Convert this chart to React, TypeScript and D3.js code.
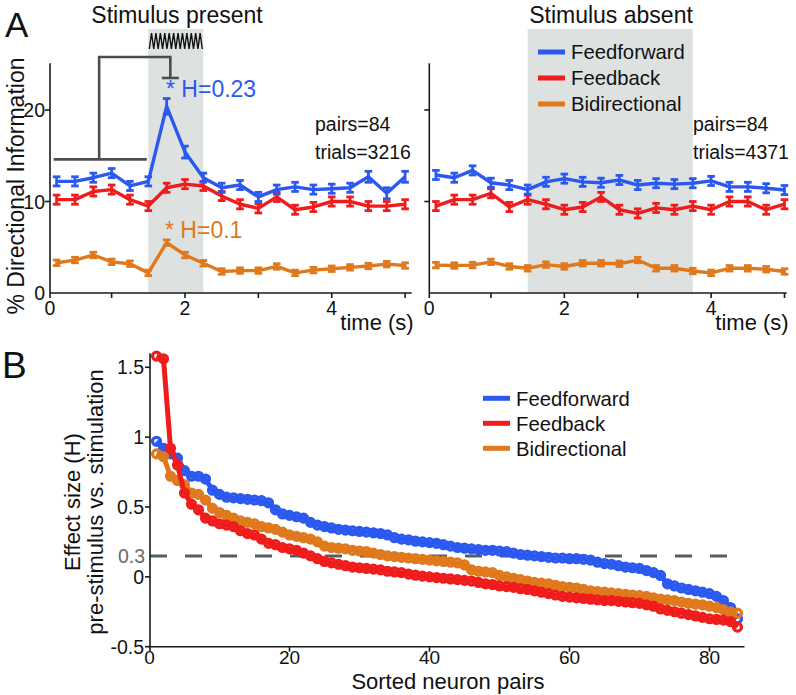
import React from 'react';
import * as d3 from 'd3';

// ---------- Panel A data ----------
const TIME = [0.25, 0.5, 0.75, 1.0, 1.25, 1.5, 1.75, 2.0, 2.25, 2.5, 2.75, 3.0, 3.25, 3.5, 3.75, 4.0, 4.25, 4.5, 4.75, 5.0];
const TIME_TICKS = [0, 1, 2, 3, 4, 5];
const TIME_TICK_LABELS = ['0', '', '2', '', '4', ''];
const DI_TICKS = [0, 10, 20];

const PRESENT_FF = [12.2, 12.2, 12.6, 13.1, 11.7, 12.2, 20.4, 15.4, 12.6, 11.5, 11.8, 10.5, 11.3, 11.6, 11.3, 11.4, 11.5, 12.7, 10.9, 12.7];
const PRESENT_FB = [10.2, 10.2, 11.1, 11.3, 10.2, 9.5, 11.5, 11.9, 11.7, 10.6, 9.7, 9.25, 10.5, 9.1, 9.4, 10.0, 10.0, 9.5, 9.5, 9.7];
const PRESENT_BI = [3.3, 3.6, 4.15, 3.4, 3.2, 2.2, 5.5, 4.15, 3.25, 2.35, 2.45, 2.45, 2.9, 2.2, 2.5, 2.65, 2.8, 2.95, 3.15, 3.0];
const PRESENT_FF_ERR = [0.5, 0.5, 0.5, 0.5, 0.5, 0.5, 0.85, 0.65, 0.5, 0.5, 0.5, 0.5, 0.5, 0.5, 0.5, 0.5, 0.5, 0.6, 0.6, 0.6];

const ABSENT_FF = [12.9, 12.6, 13.4, 12.05, 11.8, 11.3, 12.15, 12.5, 12.15, 12.05, 12.35, 11.8, 12.0, 11.9, 12.0, 12.25, 11.6, 11.6, 11.45, 11.25];
const ABSENT_FB = [9.5, 10.2, 10.2, 10.9, 9.4, 10.2, 9.7, 9.1, 9.4, 10.5, 9.1, 8.7, 9.3, 9.1, 9.5, 9.1, 10.0, 10.0, 9.1, 9.7];
const ABSENT_BI = [3.05, 3.0, 3.05, 3.4, 2.9, 2.7, 3.1, 2.9, 3.25, 3.25, 3.2, 3.6, 2.7, 2.7, 2.4, 2.2, 2.7, 2.7, 2.6, 2.35];

const ERR_FF = 0.5;
const ERR_FB = 0.5;
const ERR_BI = 0.3;

const STIM_PRESENT = [1.5, 2.25];
const STIM_ABSENT = [1.5, 3.75];

// bracket (time, value)
const BRACKET_BASE = [0.21, 1.48, 14.6];
const BRACKET_STEM_T = 0.83;
const BRACKET_TOP = 25.8;
const BRACKET_TARGET_T = 1.8;
const BRACKET_END = 23.5;

// ---------- Panel B data ----------
const PAIRS_TICKS = [0, 20, 40, 60, 80];
const H_TICKS = [1.5, 1, 0.5, 0, -0.5];
const H_TICK_LABELS = ['1.5', '1', '0.5', '0', '-0.5'];
const THRESHOLD_POS = 0.15;
const THRESHOLD_LABEL = '0.3';

const H_FF = [0.97, 0.92, 0.88, 0.85, 0.76, 0.72, 0.72, 0.70, 0.62, 0.59, 0.57, 0.565, 0.56, 0.555, 0.55, 0.545, 0.53, 0.48, 0.45, 0.44,
  0.43, 0.42, 0.39, 0.37, 0.36, 0.35, 0.34, 0.335, 0.33, 0.325, 0.32, 0.315, 0.31, 0.30, 0.28, 0.27, 0.265, 0.255, 0.25, 0.245,
  0.24, 0.23, 0.22, 0.21, 0.205, 0.20, 0.195, 0.19, 0.19, 0.185, 0.18, 0.17, 0.16, 0.155, 0.15, 0.145, 0.14, 0.135, 0.135, 0.13,
  0.13, 0.125, 0.12, 0.105, 0.095, 0.09, 0.08, 0.07, 0.065, 0.06, 0.045, 0.03, 0.01, -0.05, -0.065, -0.08, -0.09, -0.10, -0.11, -0.12,
  -0.14, -0.17, -0.22, -0.30];
const H_FB = [1.58, 1.56, 0.92, 0.80, 0.60, 0.52, 0.48, 0.42, 0.40, 0.38, 0.37, 0.36, 0.33, 0.31, 0.30, 0.27, 0.24, 0.23, 0.21, 0.20,
  0.19, 0.17, 0.15, 0.13, 0.11, 0.10, 0.09, 0.08, 0.07, 0.065, 0.06, 0.055, 0.05, 0.04, 0.035, 0.03, 0.02, 0.012, 0.005, 0.0,
  -0.005, -0.01, -0.015, -0.02, -0.025, -0.03, -0.04, -0.05, -0.055, -0.065, -0.07, -0.075, -0.085, -0.09, -0.10, -0.11, -0.12, -0.13, -0.14, -0.145,
  -0.15, -0.155, -0.16, -0.165, -0.17, -0.17, -0.175, -0.18, -0.185, -0.19, -0.20, -0.21, -0.23, -0.24, -0.25, -0.26, -0.27, -0.28, -0.29, -0.30,
  -0.305, -0.31, -0.32, -0.36];
const H_BI = [0.88, 0.86, 0.72, 0.69, 0.66, 0.60, 0.59, 0.55, 0.49, 0.46, 0.44, 0.42, 0.40, 0.39, 0.38, 0.36, 0.35, 0.34, 0.32, 0.30,
  0.29, 0.28, 0.27, 0.25, 0.22, 0.21, 0.205, 0.20, 0.19, 0.185, 0.18, 0.17, 0.16, 0.15, 0.145, 0.14, 0.135, 0.13, 0.125, 0.12,
  0.115, 0.11, 0.105, 0.10, 0.085, 0.05, 0.04, 0.035, 0.03, 0.01, 0.0, -0.01, -0.02, -0.03, -0.04, -0.045, -0.05, -0.06, -0.07, -0.075,
  -0.08, -0.09, -0.10, -0.105, -0.11, -0.115, -0.12, -0.125, -0.13, -0.135, -0.14, -0.15, -0.16, -0.165, -0.17, -0.18, -0.19, -0.195, -0.20, -0.21,
  -0.22, -0.235, -0.25, -0.26];

const LEGEND = ['Feedforward', 'Feedback', 'Bidirectional'];

const BLUE = '#2b59f0';
const RED = '#f01c1c';
const ORANGE = '#e0781c';
const SHADE = '#dde2e1';
const AXIS = '#1a1a1a';
const GRAY = '#4d4d4d';
const FONT = '"Liberation Sans", Arial, Helvetica, sans-serif';

type Scale = d3.ScaleLinear<number, number>;

function ErrorSeries({ x, y, values, errs, color }: { x: Scale; y: Scale; values: number[]; errs: number[]; color: string }) {
  const line = d3.line<number>().x((_, i) => x(TIME[i])).y((d) => y(d));
  return (
    <g>
      <path d={line(values) || ''} fill="none" stroke={color} strokeWidth={3.4} strokeLinejoin="round" />
      {values.map((v, i) => {
        const cx = x(TIME[i]);
        const e = errs[i];
        const top = y(v + e);
        const bot = y(v - e);
        return (
          <g key={i} stroke={color} strokeWidth={2.8}>
            <line x1={cx} x2={cx} y1={top} y2={bot} />
            <line x1={cx - 3.8} x2={cx + 3.8} y1={top} y2={top} />
            <line x1={cx - 3.8} x2={cx + 3.8} y1={bot} y2={bot} />
          </g>
        );
      })}
    </g>
  );
}

function TimeAxes({ x, y, showY }: { x: Scale; y: Scale; showY: boolean }) {
  const [d0, d1] = x.domain();
  const pos = (t: number) => x(Math.max(t, d0));
  return (
    <g fontFamily={FONT} fill="#111">
      <line x1={x(d0)} x2={x(d1)} y1={y(0)} y2={y(0)} stroke={AXIS} strokeWidth={1.6} />
      <line x1={x(d0)} x2={x(d0)} y1={y(0)} y2={y(25.1)} stroke={AXIS} strokeWidth={1.6} />
      {TIME_TICKS.map((t, i) => (
        <g key={t}>
          <line x1={pos(t)} x2={pos(t)} y1={y(0)} y2={y(0) + 5} stroke={AXIS} strokeWidth={1.6} />
          {TIME_TICK_LABELS[i] && (
            <text x={pos(t)} y={y(0) + 22} textAnchor="middle" fontSize={19.5}>{TIME_TICK_LABELS[i]}</text>
          )}
        </g>
      ))}
      {DI_TICKS.map((v) => (
        <g key={v}>
          {v !== 0 && <line x1={x(d0) - 5} x2={x(d0)} y1={y(v)} y2={y(v)} stroke={AXIS} strokeWidth={1.6} />}
          {showY && (
            <text x={x(d0) - 5} y={y(v)} dy="0.36em" textAnchor="end" fontSize={19.5}>{v}</text>
          )}
        </g>
      ))}
      <text x={x(d1) + 2} y={y(0) + 37} textAnchor="end" fontSize={22}>time (s)</text>
    </g>
  );
}

function zigzagPath(x0: number, x1: number, yTop: number, yBot: number, n: number) {
  const pts: [number, number][] = [];
  for (let i = 0; i <= n * 2; i++) {
    pts.push([x0 + ((x1 - x0) * i) / (n * 2), i % 2 === 0 ? yBot : yTop]);
  }
  return d3.line()(pts) || '';
}

export default function App() {
  const yA = d3.scaleLinear().domain([0, 25]).range([293, 64.25]);
  const xL = d3.scaleLinear().domain([0.16, 5.09]).range([50, 411.7]);
  const xR = d3.scaleLinear().domain([0.16, 5.03]).range([429.3, 786.7]);

  const xB = d3.scaleLinear().domain([0, 85]).range([149.5, 744.5]);
  const yB = d3.scaleLinear().domain([-0.5, 1.6]).range([646.7, 353.3]);

  const shadeTop = 29;

  const lineB = d3.line<number>().x((_, i) => xB(i + 1)).y((d) => yB(d));
  const seriesB = [
    { v: H_FF, c: BLUE },
    { v: H_BI, c: ORANGE },
    { v: H_FB, c: RED },
  ];
  const legendColors = [BLUE, RED, ORANGE];

  return (
    <svg width={796} height={695} style={{ position: 'absolute', left: 0, top: 0, background: '#fff' }} fontFamily={FONT}>
      <rect x={0} y={0} width={796} height={695} fill="#fff" />
      {/* ---------- Panel A left ---------- */}
      <rect x={xL(STIM_PRESENT[0])} y={shadeTop} width={xL(STIM_PRESENT[1]) - xL(STIM_PRESENT[0])} height={yA(0) - shadeTop} fill={SHADE} />
      <path d={zigzagPath(xL(STIM_PRESENT[0]) + 1, xL(STIM_PRESENT[1]) - 1, 33, 49, 12)} fill="none" stroke="#111" strokeWidth={1.4} />
      <g stroke={GRAY} strokeWidth={2.6} fill="none">
        <line x1={xL(BRACKET_BASE[0])} x2={xL(BRACKET_BASE[1])} y1={yA(BRACKET_BASE[2])} y2={yA(BRACKET_BASE[2])} />
        <polyline points={`${xL(BRACKET_STEM_T)},${yA(BRACKET_BASE[2])} ${xL(BRACKET_STEM_T)},${yA(BRACKET_TOP)} ${xL(BRACKET_TARGET_T)},${yA(BRACKET_TOP)} ${xL(BRACKET_TARGET_T)},${yA(BRACKET_END)}`} />
        <line x1={xL(BRACKET_TARGET_T) - 8.5} x2={xL(BRACKET_TARGET_T) + 8.5} y1={yA(BRACKET_END)} y2={yA(BRACKET_END)} />
      </g>
      <TimeAxes x={xL} y={yA} showY={true} />
      <ErrorSeries x={xL} y={yA} values={PRESENT_BI} errs={PRESENT_BI.map(() => ERR_BI)} color={ORANGE} />
      <ErrorSeries x={xL} y={yA} values={PRESENT_FB} errs={PRESENT_FB.map(() => ERR_FB)} color={RED} />
      <ErrorSeries x={xL} y={yA} values={PRESENT_FF} errs={PRESENT_FF_ERR} color={BLUE} />
      <text x={166} y={97} fontSize={23} fill={BLUE}>* H=0.23</text>
      <text x={165} y={238} fontSize={23} fill={ORANGE}>* H=0.1</text>
      <text x={315} y={131} fontSize={19.5} fill="#111">pairs=84</text>
      <text x={315} y={159} fontSize={19.5} fill="#111">trials=3216</text>
      <text x={177} y={23} textAnchor="middle" fontSize={23} fill="#111">Stimulus present</text>
      <text x={5} y={37} fontSize={35} fill="#111">A</text>
      <text transform="translate(24,186) rotate(-90)" textAnchor="middle" fontSize={23} fill="#111">% Directional Information</text>

      {/* ---------- Panel A right ---------- */}
      <rect x={xR(STIM_ABSENT[0])} y={shadeTop} width={xR(STIM_ABSENT[1]) - xR(STIM_ABSENT[0])} height={yA(0) - shadeTop} fill={SHADE} />
      <TimeAxes x={xR} y={yA} showY={false} />
      <ErrorSeries x={xR} y={yA} values={ABSENT_BI} errs={ABSENT_BI.map(() => ERR_BI)} color={ORANGE} />
      <ErrorSeries x={xR} y={yA} values={ABSENT_FB} errs={ABSENT_FB.map(() => ERR_FB)} color={RED} />
      <ErrorSeries x={xR} y={yA} values={ABSENT_FF} errs={ABSENT_FF.map(() => ERR_FF)} color={BLUE} />
      <text x={611} y={23} textAnchor="middle" fontSize={23} fill="#111">Stimulus absent</text>
      {LEGEND.map((name, i) => (
        <g key={name}>
          <line x1={538} x2={565} y1={52 + i * 26} y2={52 + i * 26} stroke={legendColors[i]} strokeWidth={5} />
          <text x={571} y={52 + i * 26} dy="0.36em" fontSize={20.3} fill="#111">{name}</text>
        </g>
      ))}
      <text x={693} y={131} fontSize={19.5} fill="#111">pairs=84</text>
      <text x={693} y={159} fontSize={19.5} fill="#111">trials=4371</text>

      {/* ---------- Panel B ---------- */}
      <line x1={150} x2={744.5} y1={yB(THRESHOLD_POS)} y2={yB(THRESHOLD_POS)} stroke="#545e62" strokeWidth={3} strokeDasharray="17 18" />
      <g stroke={AXIS} strokeWidth={1.6}>
        <line x1={150} x2={150} y1={yB(1.6)} y2={yB(-0.5)} />
        <line x1={150} x2={xB(85)} y1={yB(-0.5)} y2={yB(-0.5)} />
        {H_TICKS.map((v) => (
          <line key={v} x1={145} x2={150} y1={yB(v)} y2={yB(v)} />
        ))}
        {PAIRS_TICKS.map((p) => (
          <line key={p} x1={Math.max(xB(p), 150)} x2={Math.max(xB(p), 150)} y1={yB(-0.5)} y2={yB(-0.5) + 5} />
        ))}
      </g>
      {H_TICKS.map((v, i) => (
        <text key={v} x={144} y={yB(v)} dy="0.36em" textAnchor="end" fontSize={19.5} fill="#111">{H_TICK_LABELS[i]}</text>
      ))}
      <text x={145} y={yB(THRESHOLD_POS)} dy="0.36em" textAnchor="end" fontSize={19.5} fill="#6a6a6a">{THRESHOLD_LABEL}</text>
      {PAIRS_TICKS.map((p) => (
        <text key={p} x={xB(p)} y={664} textAnchor="middle" fontSize={19} fill="#111">{p}</text>
      ))}
      <text x={448} y={689} textAnchor="middle" fontSize={22} fill="#111">Sorted neuron pairs</text>
      <text transform="translate(80,502) rotate(-90)" textAnchor="middle" fontSize={22} fill="#111">Effect size (H)</text>
      <text transform="translate(103,502) rotate(-90)" textAnchor="middle" fontSize={22} fill="#111">pre-stimulus vs. stimulation</text>
      <text x={2} y={378} fontSize={37} fill="#111">B</text>

      {seriesB.map((s, k) => (
        <g key={k}>
          <path d={lineB(s.v) || ''} fill="none" stroke={s.c} strokeWidth={5} strokeLinejoin="round" />
          {s.v.map((d, i) => (
            <circle key={i} cx={xB(i + 1)} cy={yB(d)} r={4} fill="none" stroke={s.c} strokeWidth={3.2} />
          ))}
        </g>
      ))}

      {LEGEND.map((name, i) => (
        <g key={name}>
          <line x1={483} x2={510} y1={398.3 + i * 25} y2={398.3 + i * 25} stroke={legendColors[i]} strokeWidth={5} />
          <text x={516} y={398.3 + i * 25} dy="0.36em" fontSize={20.3} fill="#111">{name}</text>
        </g>
      ))}
    </svg>
  );
}
